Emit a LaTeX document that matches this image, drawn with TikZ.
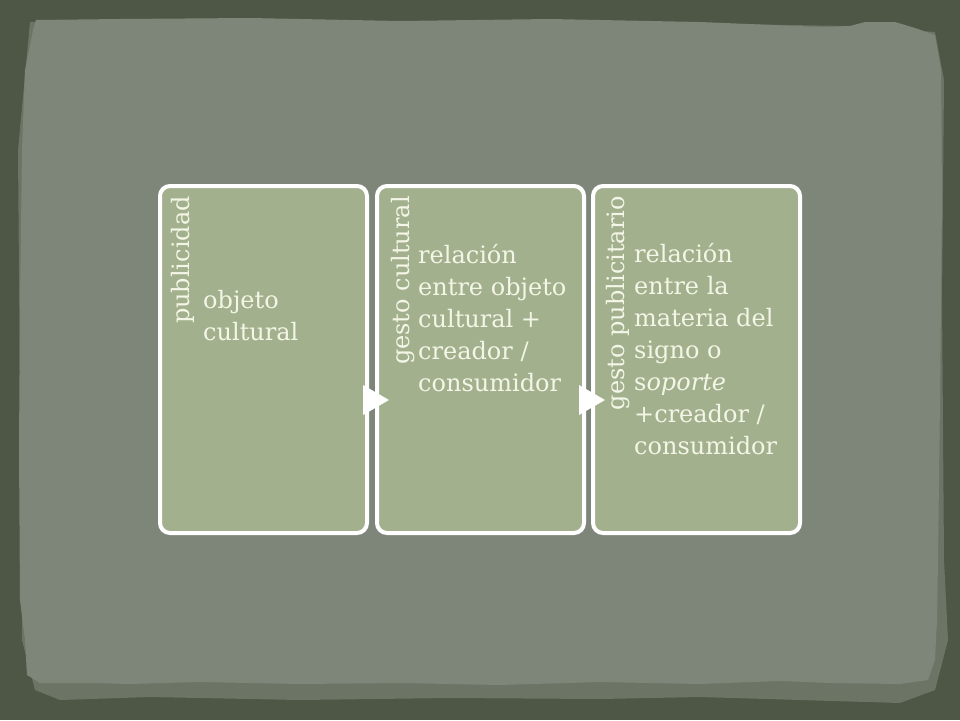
\documentclass[tikz,border=0pt]{standalone}
\usepackage{fontspec}
\setmainfont{DejaVu Serif}
\definecolor{frameC}{HTML}{4E5745}
\definecolor{tornC}{HTML}{6C7466}
\definecolor{panelC}{HTML}{7E867A}
\definecolor{boxC}{HTML}{A3B08D}
\definecolor{txtC}{HTML}{F3F5E6}
\tikzset{
  stepbox/.style={draw=white, line width=4pt, fill=boxC, rounded corners=10pt},
  titletxt/.style={rotate=90, anchor=base east, inner sep=0pt, text=txtC, font=\fontsize{24}{32}\selectfont},
  bodytxt/.style={anchor=base west, inner sep=0pt, text=txtC, font=\fontsize{24}{32}\selectfont},
  arrowtri/.style={fill=white, draw=none}
}
\renewcommand\arraystretch{1}
\begin{document}
\begin{tikzpicture}[x=1pt,y=-1pt]
\useasboundingbox (0,0) rectangle (960,720);
\fill[frameC] (0,0) rectangle (960,720);
% torn lighter strip
\fill[tornC] (30,22) -- (200,20) -- (400,24) -- (600,22) -- (850,26) -- (935,32) -- (944,80) -- (942,300) -- (944,560) -- (948,640) -- (935,690) -- (900,703) -- (800,700) -- (700,697) -- (600,699) -- (450,698) -- (300,700) -- (150,697) -- (60,700) -- (35,690) -- (22,640) -- (20,400) -- (18,150) -- cycle;
% panel
\fill[panelC] (33,30) -- (36,20) -- (120,19) -- (250,18) -- (400,21) -- (550,19) -- (700,22) -- (820,27) -- (850,26) -- (865,22) -- (895,22) -- (915,28) -- (935,35) -- (941,70) -- (942,200) -- (940,400) -- (938,560) -- (937,620) -- (935,660) -- (928,680) -- (900,684) -- (830,683) -- (780,681) -- (700,684) -- (600,682) -- (500,685) -- (400,683) -- (300,684) -- (200,682) -- (130,684) -- (90,683) -- (40,683) -- (27,675) -- (25,640) -- (20,600) -- (19,450) -- (20,300) -- (22,150) -- (25,70) -- cycle;
% boxes
\draw[stepbox] (160,186) rectangle (367,533);
\draw[stepbox] (377,186) rectangle (584,533);
\draw[stepbox] (593,186) rectangle (800,533);
\coordinate (b1) at (367,400);
\coordinate (b2) at (584,400);
% arrows
\fill[arrowtri] (363,385) -- (389,400) -- (363,415) -- cycle;
\fill[arrowtri] (579,385) -- (605,400) -- (579,415) -- cycle;
% titles
\node[titletxt] (t1) at (189,196) {publicidad};
\node[titletxt] (t2) at (409,196) {gesto cultural};
\node[titletxt] (t3) at (624,196) {gesto publicitario};
% body
\node[bodytxt] (c1) at (203,308) {\begin{tabular}[t]{@{}l@{}}objeto\\cultural\end{tabular}};
\node[bodytxt] (c2) at (418,263) {\begin{tabular}[t]{@{}l@{}}relación\\entre objeto\\cultural +\\creador /\\consumidor\end{tabular}};
\node[bodytxt] (c3) at (634,262) {\begin{tabular}[t]{@{}l@{}}relación\\entre la\\materia del\\signo o\\s\textit{oporte}\\+creador /\\consumidor\end{tabular}};
\end{tikzpicture}
\end{document}
